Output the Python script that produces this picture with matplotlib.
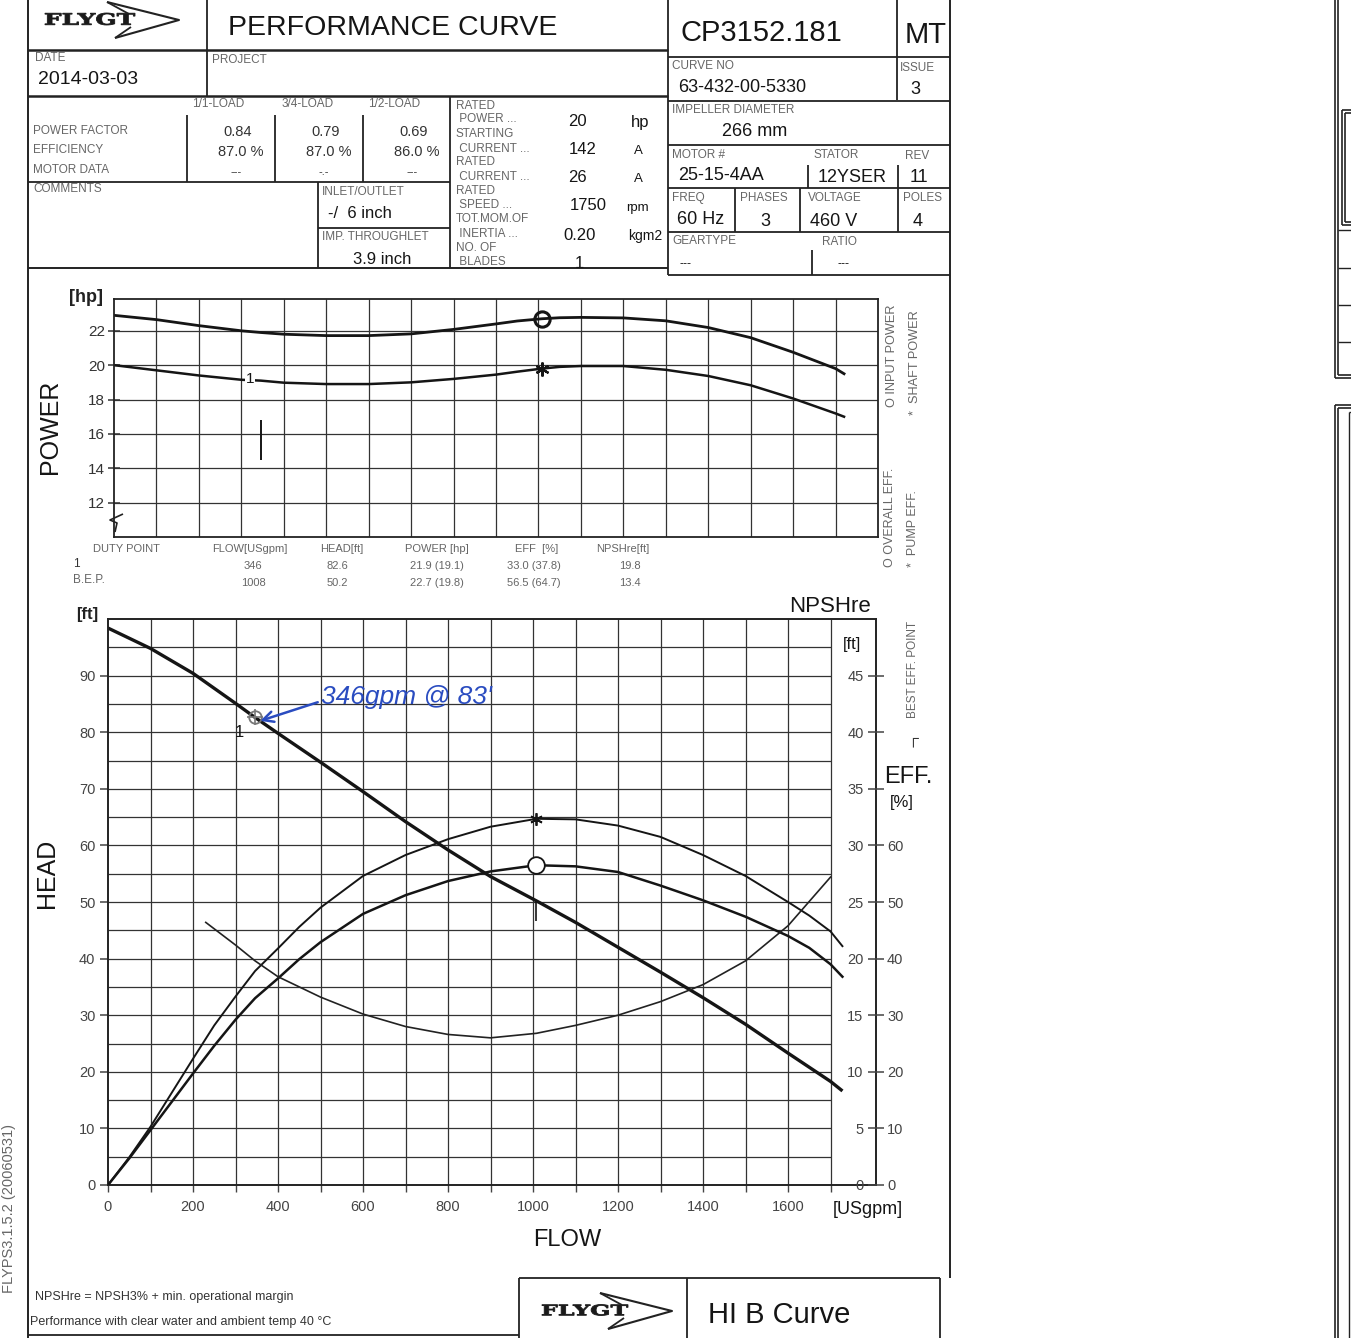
import numpy as np
import matplotlib
matplotlib.use('Agg')
import matplotlib.pyplot as plt
from matplotlib.lines import Line2D
from matplotlib.textpath import TextPath
from matplotlib.patches import PathPatch
from matplotlib.font_manager import FontProperties
from matplotlib.transforms import Affine2D, IdentityTransform

plt.rcParams['font.family'] = ['Liberation Sans', 'DejaVu Sans']

# ---- data ----
# power chart [hp] vs flow [USgpm]
flow_p = [0, 100, 200, 300, 346, 400, 500, 600, 700, 800, 900, 950, 1008, 1050, 1100, 1200, 1300, 1400, 1500, 1600, 1700, 1720]
input_power = [22.9, 22.65, 22.3, 22.0, 21.9, 21.8, 21.72, 21.72, 21.82, 22.08, 22.4, 22.57, 22.7, 22.76, 22.78, 22.75, 22.58, 22.19, 21.6, 20.75, 19.8, 19.5]
shaft_power = [20.0, 19.7, 19.4, 19.15, 19.1, 18.98, 18.9, 18.9, 19.0, 19.2, 19.45, 19.62, 19.8, 19.9, 19.95, 19.95, 19.73, 19.37, 18.83, 18.06, 17.19, 17.0]

# head [ft]
flow_h = [0, 100, 200, 300, 346, 400, 500, 600, 700, 800, 900, 1008, 1100, 1200, 1300, 1400, 1500, 1600, 1700, 1725]
head = [98.4, 94.8, 90.4, 85.1, 82.6, 79.8, 74.7, 69.5, 64.2, 59.2, 54.5, 50.2, 46.4, 42.0, 37.6, 33.1, 28.4, 23.3, 18.3, 16.8]

# efficiency [%]
flow_e = [0, 50, 100, 150, 200, 250, 300, 346, 400, 450, 500, 600, 700, 800, 900, 1008, 1100, 1200, 1300, 1400, 1500, 1600, 1650, 1700, 1728]
pump_eff = [0, 4.9, 10.3, 16.3, 22.3, 28.2, 33.3, 37.8, 41.8, 45.6, 49.0, 54.6, 58.3, 61.1, 63.3, 64.7, 64.6, 63.5, 61.5, 58.3, 54.6, 50.0, 47.6, 44.8, 42.2]
overall_eff = [0, 4.7, 9.7, 14.7, 19.7, 24.6, 29.2, 33.0, 36.5, 39.9, 42.9, 47.9, 51.2, 53.7, 55.4, 56.5, 56.3, 55.3, 52.9, 50.3, 47.4, 44.0, 41.9, 39.0, 36.8]

# NPSHre [ft]
flow_n = [230, 300, 346, 400, 500, 600, 700, 800, 900, 1008, 1100, 1200, 1300, 1400, 1500, 1600, 1700]
npsh = [23.2, 21.2, 19.8, 18.4, 16.6, 15.1, 14.0, 13.3, 13.0, 13.4, 14.1, 15.0, 16.2, 17.7, 19.8, 22.9, 27.2]

duty_flow, duty_head = 346, 82.6
bep_flow, bep_head = 1008, 50.2
bep_input, bep_shaft = 22.7, 19.8
bep_overall, bep_pump = 56.5, 64.7

table_cols = ['DUTY POINT', 'FLOW[USgpm]', 'HEAD[ft]', 'POWER [hp]', 'EFF  [%]', 'NPSHre[ft]']
row_duty = ['1', '346', '82.6', '21.9 (19.1)', '33.0 (37.8)', '19.8']
row_bep = ['B.E.P.', '1008', '50.2', '22.7 (19.8)', '56.5 (64.7)', '13.4']

W, H = 1351, 1338
fig = plt.figure(figsize=(W / 100, H / 100), dpi=100)
fig.patch.set_facecolor('white')

GRAY = '#666666'
INK = '#151515'


def fx(x):
    return x / W


def fy(y):
    return 1 - y / H


def txt(x, y, s, size=9, color=INK, ha='left', va='center', **kw):
    fig.text(fx(x), fy(y), s, fontsize=size, color=color, ha=ha, va=va, **kw)


def seg(xs, ys, lw=1.3, color='#222222'):
    fig.add_artist(Line2D([fx(v) for v in xs], [fy(v) for v in ys], lw=lw, color=color,
                          transform=fig.transFigure, solid_capstyle='butt'))


def box(x0, y0, x1, y1):
    return [fx(x0), fy(y1), (x1 - x0) / W, (y1 - y0) / H]


def logo(x0, x1, y, h):
    # stretched bold word, then the chevron
    tp = TextPath((0, 0), 'FLYGT', size=10, prop=FontProperties(family='DejaVu Serif', weight='bold'))
    ext = tp.get_extents()
    sx = (x1 - x0) / ext.width
    sy = h / ext.height
    tr = Affine2D().translate(-ext.x0, -ext.y0).scale(sx, sy).translate(x0, H - y - h / 2) + IdentityTransform()
    fig.add_artist(PathPatch(tp, transform=tr, fc='#1a1a1a', ec='#1a1a1a', lw=0.6))
    cx = x1 - 28
    seg([cx, cx + 72, cx + 8], [y - 17, y + 1, y + 19], lw=1.5)
    seg([cx, cx + 22], [y - 17, y - 5], lw=1.3)
    seg([cx + 8, cx + 24], [y + 19, y + 8], lw=1.3)


# ---- header frame ----
seg([28, 28], [0, 1338], lw=1.4)
seg([950, 950], [0, 1278], lw=1.4)
seg([207, 207], [0, 96])
seg([668, 668], [0, 275])
seg([28, 668], [50, 50], lw=1.8)
seg([28, 668], [96, 96], lw=1.8)
seg([668, 950], [57, 57])
seg([897, 897], [0, 100])
seg([668, 950], [101, 101])
seg([668, 950], [145, 145])
seg([808, 808], [165, 188])
seg([898, 898], [165, 188])
seg([668, 950], [188, 188])
for xv in [735, 800, 898]:
    seg([xv, xv], [188, 232])
seg([668, 950], [232, 232])
seg([812, 812], [250, 275])
seg([668, 950], [275, 275])
seg([28, 668], [268, 268], lw=1.4)
for xv in [187, 275, 363]:
    seg([xv, xv], [115, 182])
seg([450, 450], [96, 268])
seg([28, 450], [182, 182])
seg([318, 318], [182, 268])
seg([318, 450], [228, 228])

logo(45, 135, 19, 12)
txt(228, 28, 'PERFORMANCE CURVE', size=20.5)
txt(680, 33, 'CP3152.181', size=21)
txt(905, 35, 'MT', size=21)
txt(35, 58, 'DATE', size=8.5, color=GRAY)
txt(38, 80, '2014-03-03', size=14)
txt(212, 60, 'PROJECT', size=8.5, color=GRAY)
txt(672, 66, 'CURVE NO', size=8.5, color=GRAY)
txt(678, 88, '63-432-00-5330', size=13)
txt(900, 68, 'ISSUE', size=8.5, color=GRAY)
txt(915, 90, '3', size=13, ha='center')
txt(672, 110, 'IMPELLER DIAMETER', size=8.5, color=GRAY)
txt(722, 132, '266 mm', size=13)
txt(672, 155, 'MOTOR #', size=8.5, color=GRAY)
txt(678, 176, '25-15-4AA', size=13)
txt(813, 155, 'STATOR', size=8.5, color=GRAY)
txt(818, 177, '12YSER', size=13)
txt(905, 156, 'REV', size=8.5, color=GRAY)
txt(910, 177, '11', size=13)
txt(672, 198, 'FREQ', size=8.5, color=GRAY)
txt(677, 220, '60 Hz', size=13)
txt(740, 198, 'PHASES', size=8.5, color=GRAY)
txt(765, 221, '3', size=13, ha='center')
txt(808, 198, 'VOLTAGE', size=8.5, color=GRAY)
txt(810, 221, '460 V', size=13)
txt(903, 198, 'POLES', size=8.5, color=GRAY)
txt(918, 222, '4', size=13, ha='center')
txt(672, 241, 'GEARTYPE', size=8.5, color=GRAY)
txt(680, 264, '---', size=9)
txt(822, 242, 'RATIO', size=8.5, color=GRAY)
txt(837, 264, '---', size=9)

txt(192, 104, '1/1-LOAD', size=8.5, color=GRAY)
txt(282, 104, '3/4-LOAD', size=8.5, color=GRAY)
txt(368, 104, '1/2-LOAD', size=8.5, color=GRAY)
txt(33, 131, 'POWER FACTOR', size=8.5, color=GRAY)
txt(33, 150, 'EFFICIENCY', size=8.5, color=GRAY)
txt(33, 170, 'MOTOR DATA', size=8.5, color=GRAY)
txt(33, 189, 'COMMENTS', size=8.5, color=GRAY)
for xc, pf, ef, md in [(238, '0.84', '87.0 %', '---'), (326, '0.79', '87.0 %', '-.-'), (414, '0.69', '86.0 %', '---')]:
    txt(xc, 132, pf, size=10.5, color='#333', ha='center')
    txt(xc + 3, 152, ef, size=10.5, color='#333', ha='center')
    txt(xc - 2, 172, md, size=8, color='#333', ha='center')
txt(322, 192, 'INLET/OUTLET', size=8.5, color=GRAY)
txt(328, 214, '-/  6 inch', size=12)
txt(322, 237, 'IMP. THROUGHLET', size=8.5, color=GRAY)
txt(382, 259, '3.9 inch', size=12, ha='center')

rated_labels = [('RATED', 106), (' POWER ...', 119), ('STARTING', 134), (' CURRENT ...', 149), ('RATED', 162),
                (' CURRENT ...', 177), ('RATED', 191), (' SPEED ...', 205), ('TOT.MOM.OF', 219),
                (' INERTIA ...', 234), ('NO. OF', 248), (' BLADES', 262)]
for s, yv in rated_labels:
    txt(456, yv, s, size=8.5, color=GRAY)
for s, xv, yv in [('20', 577, 122), ('142', 583, 150), ('26', 577, 178), ('1750', 588, 206), ('0.20', 580, 236), ('1', 579, 264)]:
    txt(xv, yv, s, size=12, ha='center')
for s, xv, yv, sz in [('hp', 640, 122, 12), ('A', 638, 151, 9.5), ('A', 638, 179, 9.5), ('rpm', 637, 208, 9.5), ('kgm2', 645, 236, 10)]:
    txt(xv, yv, s, size=sz, ha='center')

# ---- power chart ----
axp = fig.add_axes(box(114, 299, 878, 537))
axp.set_xlim(0, 1800)
axp.set_ylim(10, 23.85)
axp.vlines(np.arange(100, 1800, 100), 10, 23.85, color='#333', lw=0.9)
axp.hlines(np.arange(12, 23, 2), 0, 1800, color='#333', lw=0.9)
axp.plot(flow_p, input_power, color=INK, lw=2.0, solid_joinstyle='round')
axp.plot(flow_p, shaft_power, color=INK, lw=1.8, solid_joinstyle='round')
axp.plot(bep_flow, bep_input, 'o', ms=11, mfc='none', mec=INK, mew=2.2)
axp.plot(bep_flow, bep_shaft, marker=(6, 2, 0), ms=10, color=INK, mew=1.6)
axp.text(320, 19.2, '1', fontsize=11, ha='center', va='center', color=INK,
         bbox=dict(fc='white', ec='none', pad=0.5))
axp.vlines(duty_flow, 14.5, 16.8, color=INK, lw=1.4)
axp.set_xticks([])
axp.set_yticks(np.arange(12, 23, 2))
axp.tick_params(axis='y', direction='inout', length=9, width=1.1, labelsize=11, colors='#333', pad=2)
for sp in axp.spines.values():
    sp.set_linewidth(1.3)
    sp.set_color('#222')
seg([123, 110, 117, 115], [514, 520, 523, 532], lw=1.2)

txt(86, 297, '[hp]', size=13, ha='center', weight='bold', color='#222')
txt(50, 427, 'POWER', size=18, ha='center', rotation=90)
txt(892, 407, 'O INPUT POWER', size=9.2, color=GRAY, ha='center', va='bottom', rotation=90)
txt(915, 415, '*  SHAFT POWER', size=9.2, color=GRAY, ha='center', va='bottom', rotation=90)
txt(890, 567, 'O OVERALL EFF.', size=9, color=GRAY, ha='center', va='bottom', rotation=90)
txt(913, 567, '*  PUMP EFF.', size=9, color=GRAY, ha='center', va='bottom', rotation=90)

# duty point table
col_x = [93, 212, 320, 405, 515, 596]
val_x = [None, 253, 337, 437, 534, 630]
for s, xv in zip(table_cols, col_x):
    txt(xv, 549, s, size=8, color=GRAY)
txt(73, 564, row_duty[0], size=8.5, color='#333')
txt(73, 580, row_bep[0], size=8.5, color=GRAY)
for xv, a, b in zip(val_x[1:], row_duty[1:], row_bep[1:]):
    txt(xv, 566, a, size=8, color=GRAY, ha='center')
    txt(xv, 583, b, size=8, color=GRAY, ha='center')

# ---- head / eff / npsh chart ----
axh = fig.add_axes(box(108, 619, 876, 1185))
axh.set_xlim(0, 1807)
axh.set_ylim(0, 100)
axh.vlines(np.arange(100, 1800, 100), 0, 100, color='#333', lw=0.9)
axh.hlines(np.arange(5, 100, 5), 0, 1700, color='#333', lw=0.9)
axh.plot(flow_h, head, color=INK, lw=2.4, solid_joinstyle='round')
axh.plot(duty_flow, duty_head, 'o', ms=9, mfc='none', mec='#777', mew=1.3)
axh.plot(duty_flow, duty_head, '+', ms=12, color='#777', mew=1.2)
axh.text(duty_flow - 38, duty_head - 2.6, '1', fontsize=12, ha='center', va='center', color=INK)
axh.vlines(bep_flow, bep_head - 3.5, bep_head, color=INK, lw=1.2)
axh.set_xticks(np.arange(0, 1700, 200))
axh.set_xticks(np.arange(100, 1800, 100), minor=True)
axh.set_yticks(np.arange(0, 100, 10))
axh.tick_params(axis='y', direction='out', length=6, width=1.1, labelsize=10.5, colors='#444', pad=3)
axh.tick_params(axis='x', which='both', direction='out', length=5, width=1.0, labelsize=10.5, colors='#444', pad=6)
for sp in axh.spines.values():
    sp.set_linewidth(1.4)
    sp.set_color('#222')

axe = axh.twinx()
axe.set_ylim(0, 100)
axe.plot(flow_e, pump_eff, color=INK, lw=1.4, solid_joinstyle='round')
axe.plot(flow_e, overall_eff, color=INK, lw=1.8, solid_joinstyle='round')
axe.plot(bep_flow, bep_pump, marker=(6, 2, 0), ms=9, color=INK, mew=1.3)
axe.plot(bep_flow, bep_overall, 'o', ms=12, mfc='white', mec=INK, mew=1.3)
axe.set_yticks(np.arange(0, 61, 10))
axe.tick_params(axis='y', length=0, labelsize=10.5, colors='#444', pad=8)
for sp in axe.spines.values():
    sp.set_visible(False)

axn = axh.twinx()
axn.set_ylim(0, 50)
axn.plot(flow_n, npsh, color='#222', lw=1.2, solid_joinstyle='round')
axn.set_yticks([])
for sp in axn.spines.values():
    sp.set_visible(False)

# NPSH scale, labels on the inside of the right axis line
axs = fig.add_axes(box(876, 619, 877, 1185))
axs.set_ylim(0, 50)
axs.set_xticks([])
axs.set_yticks(np.arange(0, 46, 5))
axs.tick_params(axis='y', direction='inout', length=12, width=1.1, labelsize=10.5, colors='#444', pad=3)
axs.patch.set_alpha(0)
for sp in axs.spines.values():
    sp.set_visible(False)

txt(87, 615, '[ft]', size=12, ha='center', weight='bold', color='#222')
txt(47, 873, 'HEAD', size=18, ha='center', rotation=90)
txt(830, 607, 'NPSHre', size=16, ha='center')
txt(852, 645, '[ft]', size=12, ha='center')
txt(908, 777, 'EFF.', size=17, ha='center')
txt(902, 803, '[%]', size=12, ha='center')
txt(913, 718, 'BEST EFF. POINT', size=8.5, color=GRAY, ha='center', va='bottom', rotation=90)
txt(913, 740, '\u250c', size=11, ha='center', color='#333')
txt(868, 1210, '[USgpm]', size=13, ha='center')
txt(567, 1240, 'FLOW', size=17, ha='center')

# handwritten note
axh.annotate("346gpm @ 83'", xy=(duty_flow + 12, duty_head - 0.6), xytext=(500, 86.3),
             fontsize=19, color='#2a4cc0', style='italic', va='center',
             arrowprops=dict(arrowstyle='->', color='#2a4cc0', lw=1.8, shrinkA=0, shrinkB=0,
                             relpos=(0, 0.3)))

# ---- footer ----
txt(35, 1297, 'NPSHre = NPSH3% + min. operational margin', size=9, color='#333')
txt(30, 1322, 'Performance with clear water and ambient temp 40 \u00b0C', size=9, color='#333')
txt(9, 1293, 'FLYPS3.1.5.2 (20060531)', size=10.5, color=GRAY, ha='center', va='bottom', rotation=90)
seg([28, 519], [1335, 1335], lw=1.3)
seg([519, 940], [1278, 1278], lw=1.3)
seg([519, 519], [1278, 1338])
seg([687, 687], [1278, 1338])
seg([940, 940], [1278, 1338])
logo(542, 628, 1310, 11)
txt(708, 1315, 'HI B Curve', size=21)

# ---- edge of the next sheet ----
seg([1335, 1335], [0, 378], lw=1.2)
seg([1338, 1338], [0, 375], lw=1.2)
seg([1335, 1351], [378, 378], lw=1.2)
seg([1338, 1351], [375, 375], lw=1.2)
seg([1342, 1342], [110, 225], lw=1.2)
seg([1345, 1345], [113, 222], lw=1.2)
for yv in [110, 225]:
    seg([1342, 1351], [yv, yv], lw=1.2)
for yv in [113, 222]:
    seg([1345, 1351], [yv, yv], lw=1.2)
for yv in [230, 268, 305, 342]:
    seg([1338, 1351], [yv, yv], lw=1.0)
seg([1335, 1335], [405, 1338], lw=1.2)
seg([1338, 1338], [408, 1338], lw=1.2)
seg([1335, 1351], [405, 405], lw=1.2)
seg([1338, 1351], [408, 408], lw=1.2)
seg([1349, 1349], [412, 1338], lw=1.0)
seg([1349, 1351], [412, 412], lw=1.0)

fig.savefig('out.png', dpi=100)
